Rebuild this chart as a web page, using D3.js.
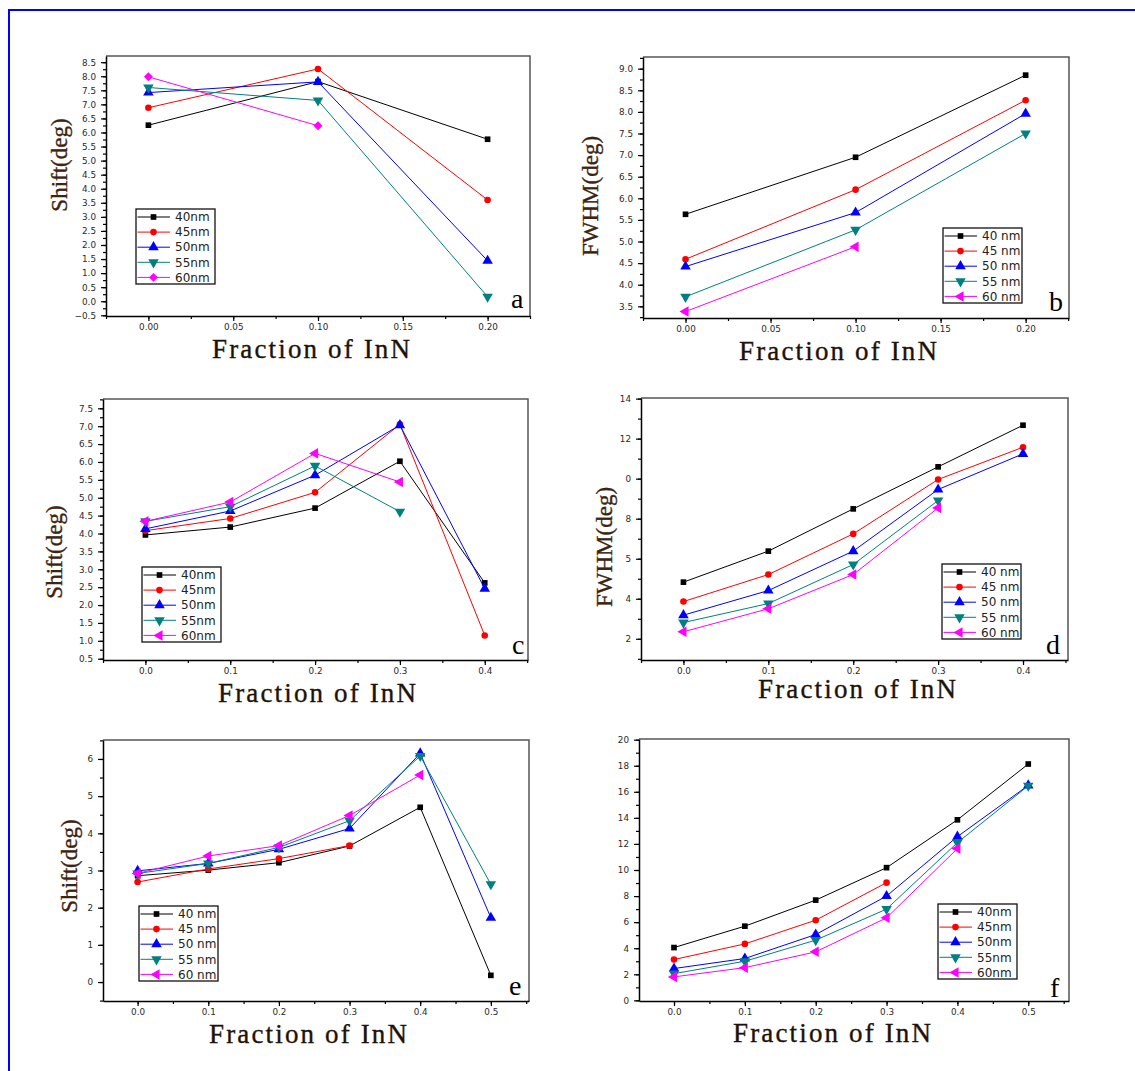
<!DOCTYPE html>
<html>
<head>
<meta charset="utf-8">
<script src="https://cdn.jsdelivr.net/npm/d3@7"></script>
<style>
body { margin: 0; background: #fff; }
svg { display: block; }
</style>
</head>
<body>
<script>
var width = 1135;
var height = 1071;

var colors = ["#000000", "#ff0000", "#0000ff", "#008080", "#ff00ff"];

// panel a : Shift vs fraction (3 points)
var xA = [0, 0.1, 0.2];
var shiftA = [[6.26, 7.81, 5.76], [6.88, 8.26, 3.60], [7.42, 7.80, 1.44], [7.60, 7.14, 0.16], [7.98, 6.24, null]];
var legendA = ["40nm", "45nm", "50nm", "55nm", "60nm"];
var xTicksA = [0, 0.05, 0.1, 0.15, 0.2];
var xLabelsA = ["0.00", "0.05", "0.10", "0.15", "0.20"];
var yTicksA = [-0.5, 0, 0.5, 1, 1.5, 2, 2.5, 3, 3.5, 4, 4.5, 5, 5.5, 6, 6.5, 7, 7.5, 8, 8.5];

// panel b : FWHM
var xB = [0, 0.1, 0.2];
var fwhmB = [[5.63, 6.95, 8.85], [4.59, 6.20, 8.27], [4.42, 5.67, 7.96], [3.72, 5.27, 7.50], [3.38, 4.88, null]];
var legendB = ["40 nm", "45 nm", "50 nm", "55 nm", "60 nm"];
var yTicksB = [3.5, 4, 4.5, 5, 5.5, 6, 6.5, 7, 7.5, 8, 8.5, 9];

// panel c : Shift (5 points)
var xC = [0, 0.1, 0.2, 0.3, 0.4];
var shiftC = [[3.96, 4.18, 4.71, 6.02, 2.62], [4.08, 4.42, 5.15, 7.05, 1.15], [4.13, 4.63, 5.63, 7.03, 2.46], [4.34, 4.75, 5.89, 4.61, null], [4.34, 4.88, 6.24, 5.44, null]];
var legendC = ["40nm", "45nm", "50nm", "55nm", "60nm"];
var xTicksC = [0, 0.1, 0.2, 0.3, 0.4];
var xLabelsC = ["0.0", "0.1", "0.2", "0.3", "0.4"];
var yTicksC = [0.5, 1, 1.5, 2, 2.5, 3, 3.5, 4, 4.5, 5, 5.5, 6, 6.5, 7, 7.5];

// panel d : FWHM (5 points)
var xD = [0, 0.1, 0.2, 0.3, 0.4];
var fwhmD = [[4.83, 6.38, 8.49, 10.59, 12.67], [3.86, 5.21, 7.24, 9.96, 11.57], [3.18, 4.41, 6.38, 9.46, 11.24], [2.81, 3.76, 5.71, 8.91, null], [2.35, 3.50, 5.21, 8.54, null]];
var legendD = ["40 nm", "45 nm", "50 nm", "55 nm", "60 nm"];
var yTicksD = [2, 4, 6, 8, 10, 12, 14];
var yLabelsD = ["2", "4", "5", "8", "0", "12", "14"];

// panel e : Shift (6 points)
var xE = [0, 0.1, 0.2, 0.3, 0.4, 0.5];
var shiftE = [[2.86, 3.01, 3.21, 3.66, 4.70, 0.18], [2.69, 3.04, 3.32, 3.67, null, null], [2.99, 3.19, 3.57, 4.13, 6.15, 1.73], [2.92, 3.19, 3.62, 4.34, 6.08, 2.63], [2.92, 3.39, 3.67, 4.48, 5.57, null]];
var legendE = ["40 nm", "45 nm", "50 nm", "55 nm", "60 nm"];
var xTicksE = [0, 0.1, 0.2, 0.3, 0.4, 0.5];
var xLabelsE = ["0.0", "0.1", "0.2", "0.3", "0.4", "0.5"];
var yTicksE = [0, 1, 2, 3, 4, 5, 6];

// panel f : FWHM (6 points)
var xF = [0, 0.1, 0.2, 0.3, 0.4, 0.5];
var fwhmF = [[4.05, 5.69, 7.69, 10.18, 13.85, 18.13], [3.13, 4.33, 6.15, 9.03, null, null], [2.44, 3.21, 5.05, 8.00, 12.56, 16.49], [2.05, 3.00, 4.62, 7.00, 12.10, 16.46], [1.80, 2.51, 3.72, 6.33, 11.64, null]];
var legendF = ["40nm", "45nm", "50nm", "55nm", "60nm"];
var yTicksF = [0, 2, 4, 6, 8, 10, 12, 14, 16, 18, 20];

var symbolsA = ["square", "circle", "up", "down", "diamond"];
var symbolsB = ["square", "circle", "up", "down", "left"];

var panels = [
  {letter: "a", box: [106, 56, 530, 316], xDom: [-0.025, 0.225], yDom: [-0.525, 8.72],
   xs: xA, ys: shiftA, legend: legendA, syms: symbolsA,
   xTicks: xTicksA, xLabels: xLabelsA, xMinorStep: 0.025, yTicks: yTicksA, yFmt: ".1f", yMinorStep: 0.25,
   legendPos: [136, 209], yTitle: "Shift(deg)", yTitlePos: [67, 165], xTitlePos: [311, 358], letterPos: [511, 308]},
  {letter: "b", box: [643, 57, 1069, 318], xDom: [-0.025, 0.2255], yDom: [3.23, 9.27],
   xs: xB, ys: fwhmB, legend: legendB, syms: symbolsB,
   xTicks: xTicksA, xLabels: xLabelsA, xMinorStep: 0.025, yTicks: yTicksB, yFmt: ".1f", yMinorStep: 0.25,
   legendPos: [943, 228], yTitle: "FWHM(deg)", yTitlePos: [598, 196], xTitlePos: [838, 360], letterPos: [1049, 311]},
  {letter: "c", box: [103, 399, 528, 660], xDom: [-0.05, 0.451], yDom: [0.464, 7.76],
   xs: xC, ys: shiftC, legend: legendC, syms: symbolsB,
   xTicks: xTicksC, xLabels: xLabelsC, xMinorStep: 0.05, yTicks: yTicksC, yFmt: ".1f", yMinorStep: 0.25,
   legendPos: [142, 567], yTitle: "Shift(deg)", yTitlePos: [62, 552], xTitlePos: [317, 702], letterPos: [512, 654]},
  {letter: "d", box: [641, 398, 1068, 660], xDom: [-0.05, 0.453], yDom: [0.94, 14.03],
   xs: xD, ys: fwhmD, legend: legendD, syms: symbolsB,
   xTicks: xTicksC, xLabels: xLabelsC, xMinorStep: 0.05, yTicks: yTicksD, yLabels: yLabelsD, yMinorStep: 1,
   legendPos: [942, 564], yTitle: "FWHM(deg)", yTitlePos: [612, 547], xTitlePos: [857, 698], letterPos: [1046, 654]},
  {letter: "e", box: [103, 740, 529, 1001], xDom: [-0.049, 0.554], yDom: [-0.51, 6.51],
   xs: xE, ys: shiftE, legend: legendE, syms: symbolsB,
   xTicks: xTicksE, xLabels: xLabelsE, xMinorStep: 0.05, yTicks: yTicksE, yFmt: "d", yMinorStep: 0.5,
   legendPos: [139, 906], yTitle: "Shift(deg)", yTitlePos: [77, 866], xTitlePos: [308, 1043], letterPos: [509, 995]},
  {letter: "f", box: [639, 739, 1069, 1001], xDom: [-0.0494, 0.5575], yDom: [-0.05, 20.05],
   xs: xF, ys: fwhmF, legend: legendF, syms: symbolsB,
   xTicks: xTicksE, xLabels: xLabelsE, xMinorStep: 0.05, yTicks: yTicksF, yFmt: "d", yMinorStep: 1,
   legendPos: [938, 904], yTitle: null, xTitlePos: [832, 1042], letterPos: [1050, 997]}
];

var svg = d3.select("body").append("svg")
    .attr("width", width)
    .attr("height", height);

svg.append("rect").attr("width", width).attr("height", height).attr("fill", "#fff");

// blue frame round the figure (top and left edges)
svg.append("path")
    .attr("d", "M9," + height + "V10H" + width)
    .attr("fill", "none")
    .attr("stroke", "#0000ff")
    .attr("stroke-width", 2);

function symbolPath(kind) {
  var table = {
    square: [d3.symbolSquare, 32, 0],
    circle: [d3.symbolCircle, 34, 0],
    up: [d3.symbolTriangle, 48, 0],
    down: [d3.symbolTriangle, 48, 180],
    left: [d3.symbolTriangle, 48, -90],
    diamond: [d3.symbolSquare, 40, 45]
  };
  var t = table[kind];
  return {d: d3.symbol(t[0], t[1])(), rot: t[2]};
}

function drawPanel(p) {
  var g = svg.append("g");
  var x = d3.scaleLinear().domain(p.xDom).range([p.box[0], p.box[2]]);
  var y = d3.scaleLinear().domain(p.yDom).range([p.box[3], p.box[1]]);

  // frame top / right
  g.append("path")
      .attr("d", "M" + p.box[0] + "," + p.box[1] + "H" + p.box[2] + "V" + p.box[3])
      .attr("fill", "none")
      .attr("stroke", "#555")
      .attr("stroke-width", 1.5);

  // minor ticks
  var xMinor = d3.range(Math.ceil(p.xDom[0] / p.xMinorStep - 1e-6) * p.xMinorStep, p.xDom[1] + 1e-9, p.xMinorStep);
  var yMinor = d3.range(Math.ceil(p.yDom[0] / p.yMinorStep - 1e-6) * p.yMinorStep, p.yDom[1] + 1e-9, p.yMinorStep);

  g.append("g")
      .attr("transform", "translate(0," + p.box[3] + ")")
      .call(d3.axisBottom(x).tickValues(xMinor).tickSize(3).tickSizeOuter(0).tickFormat(""))
      .call(function(s) { s.select(".domain").remove(); });
  g.append("g")
      .attr("transform", "translate(" + p.box[0] + ",0)")
      .call(d3.axisLeft(y).tickValues(yMinor).tickSize(3).tickSizeOuter(0).tickFormat(""))
      .call(function(s) { s.select(".domain").remove(); });

  var xAxis = d3.axisBottom(x)
      .tickValues(p.xTicks)
      .tickSize(5)
      .tickSizeOuter(0)
      .tickPadding(3)
      .tickFormat(function(d, i) { return p.xLabels[i]; });
  var yAxis = d3.axisLeft(y)
      .tickValues(p.yTicks)
      .tickSize(5)
      .tickSizeOuter(0)
      .tickPadding(5)
      .tickFormat(p.yLabels ? function(d, i) { return p.yLabels[i]; } : d3.format(p.yFmt));

  var gx = g.append("g")
      .attr("transform", "translate(0," + p.box[3] + ")")
      .call(xAxis);
  var gy = g.append("g")
      .attr("transform", "translate(" + p.box[0] + ",0)")
      .call(yAxis);

  [gx, gy].forEach(function(a) {
    a.selectAll("text")
        .style("font-family", "'DejaVu Sans', Verdana, sans-serif")
        .style("font-size", "8.8px")
        .attr("fill", "#2a2a2a");
    a.select(".domain").attr("stroke", "#000").attr("stroke-width", 1.5);
  });
  g.selectAll(".tick line").attr("stroke", "#000").attr("stroke-width", 1.2);

  // series
  p.ys.forEach(function(vals, si) {
    var pts = vals.map(function(v, i) { return [p.xs[i], v]; })
        .filter(function(d) { return d[1] != null; });
    var line = d3.line()
        .x(function(d) { return x(d[0]); })
        .y(function(d) { return y(d[1]); });
    g.append("path")
        .attr("d", line(pts))
        .attr("fill", "none")
        .attr("stroke", colors[si])
        .attr("stroke-width", 1);
    var sp = symbolPath(p.syms[si]);
    g.selectAll(null)
        .data(pts)
        .enter().append("path")
        .attr("d", sp.d)
        .attr("transform", function(d) { return "translate(" + x(d[0]) + "," + y(d[1]) + ") rotate(" + sp.rot + ")"; })
        .attr("fill", colors[si]);
  });

  // legend
  var lg = g.append("g").attr("transform", "translate(" + p.legendPos[0] + "," + p.legendPos[1] + ")");
  lg.append("rect")
      .attr("width", 79)
      .attr("height", 75)
      .attr("fill", "#fff")
      .attr("stroke", "#111")
      .attr("stroke-width", 1.3);
  p.legend.forEach(function(name, i) {
    var ry = 8 + i * 15.1;
    lg.append("line")
        .attr("x1", 1.5).attr("x2", 34)
        .attr("y1", ry).attr("y2", ry)
        .attr("stroke", colors[i])
        .attr("stroke-width", 1);
    var sp = symbolPath(p.syms[i]);
    lg.append("path")
        .attr("d", sp.d)
        .attr("transform", "translate(17.5," + ry + ") rotate(" + sp.rot + ")")
        .attr("fill", colors[i]);
    lg.append("text")
        .attr("x", 39)
        .attr("y", ry + 4.2)
        .style("font-family", "'DejaVu Sans', Verdana, sans-serif")
        .style("font-size", "12px")
        .attr("fill", "#222")
        .text(name);
  });

  // titles
  if (p.yTitle) {
    g.append("text")
        .attr("transform", "translate(" + p.yTitlePos[0] + "," + p.yTitlePos[1] + ") rotate(-90)")
        .attr("text-anchor", "middle")
        .style("font-family", "'Liberation Serif', 'Times New Roman', serif")
        .style("font-size", "23px")
        .attr("fill", "#3d2410")
        .attr("stroke", "#3d2410")
        .attr("stroke-width", 0.35)
        .text(p.yTitle);
  }
  g.append("text")
      .attr("x", p.xTitlePos[0] - 99)
      .attr("y", p.xTitlePos[1])
      .attr("textLength", 198)
      .attr("lengthAdjust", "spacing")
      .style("font-family", "'Liberation Serif', 'Times New Roman', serif")
      .style("font-size", "27px")
      .attr("fill", "#1e1208")
      .attr("stroke", "#1e1208")
      .attr("stroke-width", 0.35)
      .text("Fraction of InN");

  g.append("text")
      .attr("x", p.letterPos[0])
      .attr("y", p.letterPos[1])
      .style("font-family", "'Liberation Serif', 'Times New Roman', serif")
      .style("font-size", "28px")
      .attr("fill", "#000")
      .text(p.letter);
}

panels.forEach(drawPanel);
</script>
</body>
</html>
